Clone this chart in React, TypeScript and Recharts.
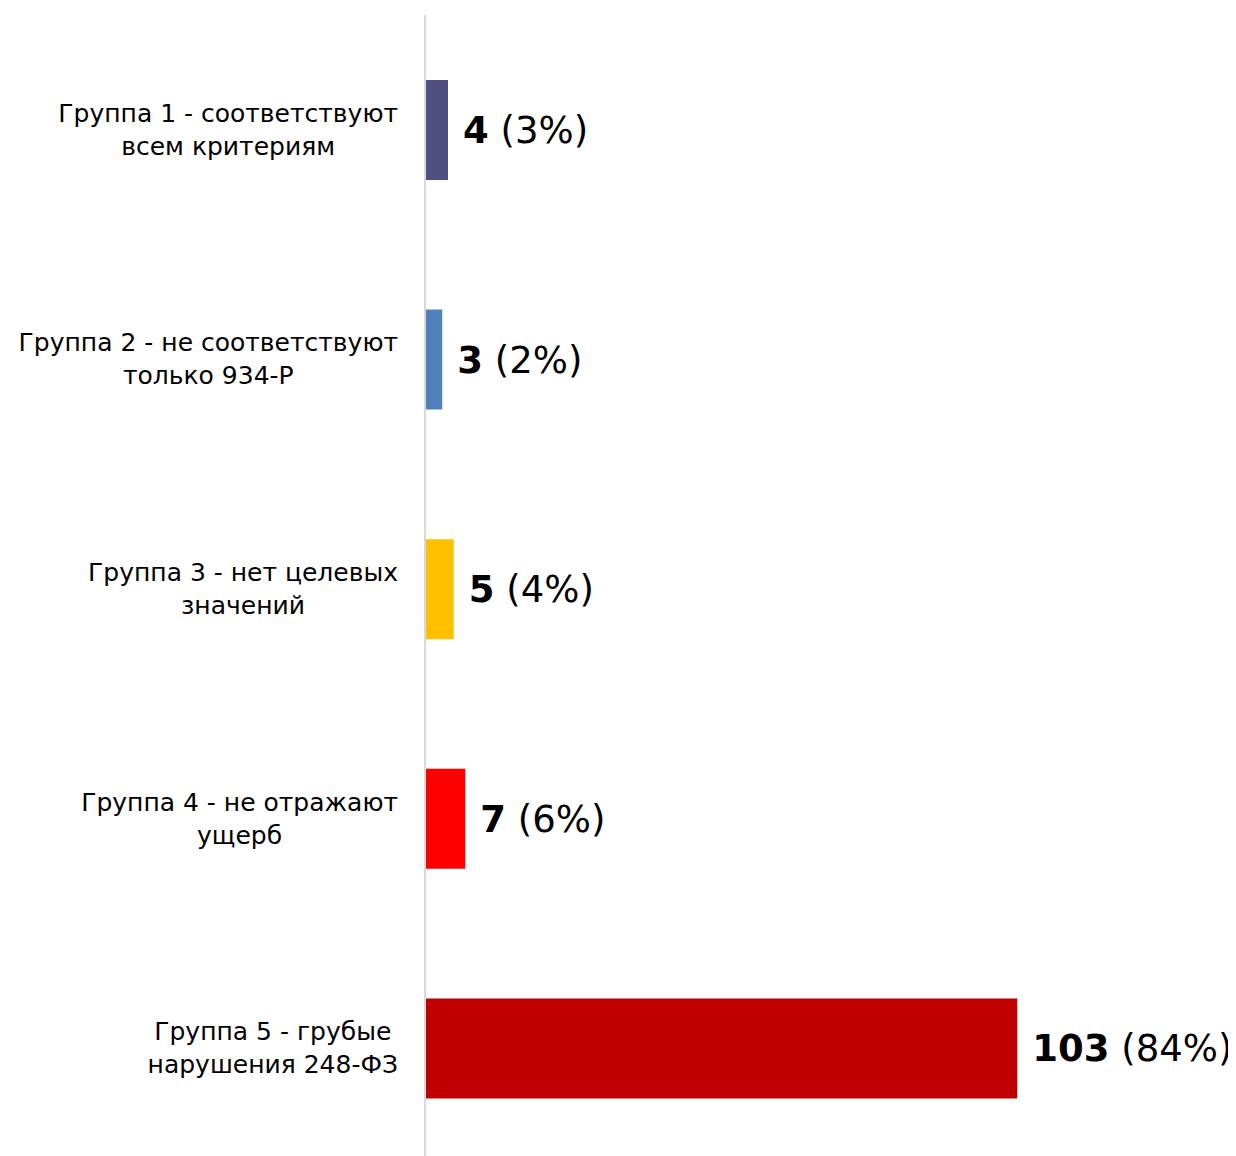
import React from "react";
import { BarChart, Bar, XAxis, YAxis, Cell, LabelList } from "recharts";

const categories = [
  "Группа 1 - соответствуют\nвсем критериям",
  "Группа 2 - не соответствуют\nтолько 934-Р",
  "Группа 3 - нет целевых\nзначений",
  "Группа 4 - не отражают\nущерб",
  "Группа 5 - грубые\nнарушения 248-ФЗ",
];
const counts = [4, 3, 5, 7, 103];
const percents = ["3%", "2%", "4%", "6%", "84%"];
const colors = ["#524F81", "#4F81BD", "#FFC000", "#FF0000", "#C00000"];

const data = categories.map((c, i) => ({ name: c, value: counts[i], pct: percents[i] }));

const FONT = "'DejaVu Sans', sans-serif";
const TICK_SIZE = 25;

let canvasCtx: CanvasRenderingContext2D | null = null;
function measure(text: string, size: number): number {
  if (!canvasCtx) {
    const c = document.createElement("canvas");
    canvasCtx = c.getContext("2d");
  }
  if (!canvasCtx) return text.length * size * 0.6;
  canvasCtx.font = `${size}px ${FONT}`;
  return canvasCtx.measureText(text).width;
}

const CategoryTick = (props: any) => {
  const { x, y, payload } = props;
  const lines: string[] = String(payload.value).split("\n");
  const maxW = Math.max(...lines.map((l) => measure(l, TICK_SIZE)));
  const rightEdge = x - 19;
  const cx = rightEdge - maxW / 2;
  const lh = 33;
  const start = y - ((lines.length - 1) * lh) / 2;
  return (
    <g>
      {lines.map((l, i) => (
        <text
          key={i}
          x={cx}
          y={start + i * lh}
          textAnchor="middle"
          dominantBaseline="central"
          fontFamily={FONT}
          fontSize={TICK_SIZE}
          fill="#000"
        >
          {l}
        </text>
      ))}
    </g>
  );
};

const ValueLabel = (props: any) => {
  const { x, y, width, height, index } = props;
  return (
    <text
      x={x + width + 15}
      y={y + height / 2}
      dominantBaseline="central"
      fontFamily={FONT}
      fontSize={37}
      fill="#000"
    >
      <tspan fontWeight="bold">{counts[index]}</tspan>
      <tspan> ({percents[index]})</tspan>
    </text>
  );
};

export default function App() {
  return (
    <BarChart
      width={1228}
      height={1155}
      data={data}
      layout="vertical"
      margin={{ top: 7, right: 121, bottom: 0, left: 0 }}
    >
      <XAxis type="number" domain={[0, 120]} hide />
      <YAxis
        type="category"
        dataKey="name"
        width={417}
        axisLine={{ stroke: "#D9D9D9", strokeWidth: 2 }}
        tickLine={false}
        tick={<CategoryTick />}
        interval={0}
      />
      <Bar dataKey="value" barSize={100} isAnimationActive={false}>
        {data.map((d, i) => (
          <Cell key={i} fill={colors[i]} />
        ))}
        <LabelList dataKey="value" content={<ValueLabel />} />
      </Bar>
    </BarChart>
  );
}
